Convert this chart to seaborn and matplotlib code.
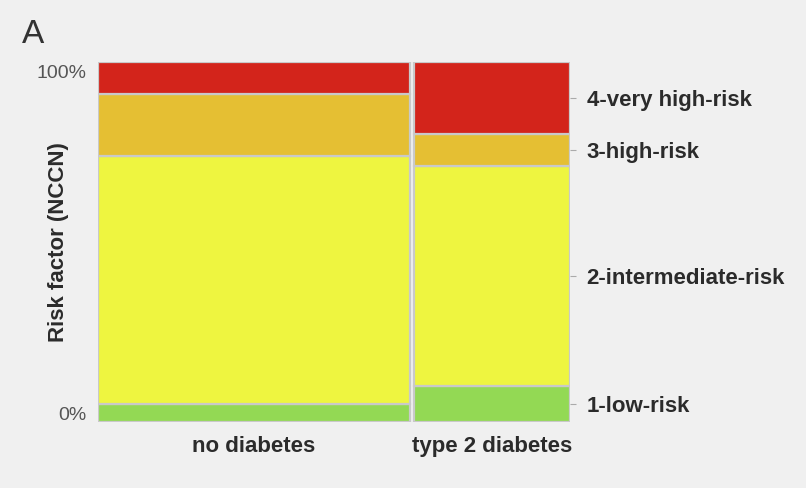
import numpy as np
import seaborn as sns
import matplotlib.pyplot as plt

groups = ["no diabetes", "type 2 diabetes"]
group_share = [0.667, 0.333]
risk_levels = ["1-low-risk", "2-intermediate-risk", "3-high-risk", "4-very high-risk"]
no_diabetes = [5, 69, 17, 9]
type2_diabetes = [10, 61, 9, 20]
risk_colors = ["#93d954", "#eef540", "#e5bf33", "#d3241b"]

sns.set_theme(style="white")
plt.rcParams['font.family'] = ['Liberation Sans', 'DejaVu Sans']

bg = "#f0f0f0"
fig = plt.figure(figsize=(8.06, 4.88), dpi=100, facecolor=bg)
ax = fig.add_axes([0.1216, 0.135, 0.5856, 0.738], facecolor=bg)

gap = 0.009
shares = np.array(group_share) / sum(group_share) * (1 - gap)
lefts = np.concatenate([[0], np.cumsum(shares)[:-1] + gap])
centers = lefts + shares / 2

for values, left, width in zip([no_diabetes, type2_diabetes], lefts, shares):
    bottom = 0
    for val, col in zip(values, risk_colors):
        ax.bar(left, val, width=width, bottom=bottom, align="edge",
               color=col, edgecolor="#c9c9c9", linewidth=1.6)
        bottom += val

ax.set_xlim(0, 1)
ax.set_ylim(0, 100)
for s in ax.spines.values():
    s.set_visible(False)

ax.set_xticks(centers)
ax.set_xticklabels(groups, fontsize=16, fontweight="bold", color="#2b2b2b")
ax.set_yticks([2.5, 97.3])
ax.set_yticklabels(["0%", "100%"], fontsize=14, color="#555555")
ax.tick_params(axis="both", length=0, pad=8)
ax.tick_params(axis="x", pad=10)
ax.set_ylabel("Risk factor (NCCN)", fontsize=16, fontweight="bold", color="#2b2b2b")
ax.yaxis.set_label_coords(-0.062, 0.5)

# right-hand labels at the middle of the type 2 diabetes tiles
mids = np.cumsum(type2_diabetes) - np.array(type2_diabetes) / 2
ax2 = ax.twinx()
ax2.set_ylim(0, 100)
for s in ax2.spines.values():
    s.set_visible(False)
ax2.set_yticks(mids)
ax2.set_yticklabels(risk_levels, fontsize=16, fontweight="bold", color="#2b2b2b")
ax2.tick_params(axis="y", length=4, width=0.8, color="#aaaaaa", pad=8)

fig.text(0.027, 0.93, "A", fontsize=24, color="#333333", va="center")

fig.savefig("out.png", dpi=100, facecolor=bg)
